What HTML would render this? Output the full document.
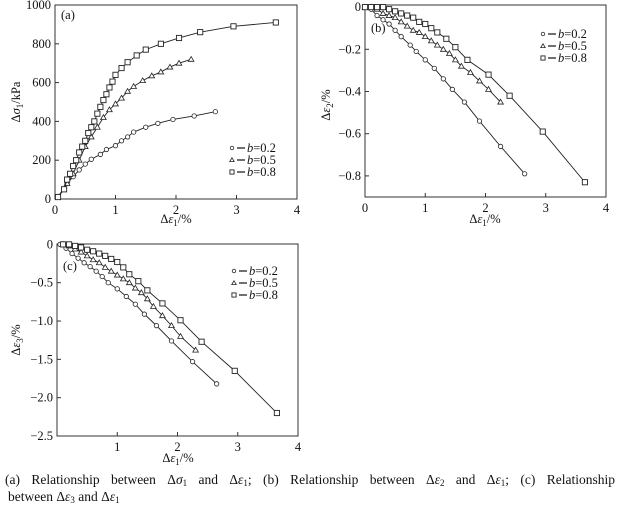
<!DOCTYPE html>
<html><head><meta charset="utf-8"><style>
html,body{margin:0;padding:0;background:#fff;width:621px;height:509px;overflow:hidden;position:relative}
svg text{font-family:"Liberation Serif",serif;fill:#111}
.cap{position:absolute;left:5px;width:610px;font-family:"Liberation Serif",serif;font-size:13.5px;line-height:17px;color:#111;white-space:nowrap}
.cap sub{font-size:9px;line-height:0;vertical-align:-2px}
#c1{top:471px;text-align:justify;text-align-last:justify}
#c2{top:488px;left:8px}
</style></head><body>
<svg id="s" width="621" height="509" xmlns="http://www.w3.org/2000/svg" style="position:absolute;left:0;top:0"></svg>
<div class="cap" id="c1">(a) Relationship between Δ<i>σ</i><sub>1</sub> and Δ<i>ε</i><sub>1</sub>; (b) Relationship&nbsp;between Δ<i>ε</i><sub>2</sub> and Δ<i>ε</i><sub>1</sub>; (c) Relationship</div>
<div class="cap" id="c2">between Δ<i>ε</i><sub>3</sub> and Δ<i>ε</i><sub>1</sub></div>
<script>
const S=document.getElementById('s');let h='';
function panel(o){
 const {L,R,T,B,x0,x1,y0,y1}=o;
 const X=v=>L+(v-x0)/(x1-x0)*(R-L), Y=v=>B-(v-y0)/(y1-y0)*(B-T);
 h+=`<rect x="${L}" y="${T}" width="${R-L}" height="${B-T}" fill="none" stroke="#333" stroke-width="1"/>`;
 o.xt.forEach(v=>{const x=X(v);h+=`<line x1="${x}" y1="${B}" x2="${x}" y2="${B-4}" stroke="#333"/><text x="${x}" y="${B+15}" font-size="12.5" text-anchor="middle">${v}</text>`});
 o.yt.forEach(v=>{const y=Y(v[0]);h+=`<line x1="${L}" y1="${y}" x2="${L+4}" y2="${y}" stroke="#333"/><text x="${L-4}" y="${y+4}" font-size="12.5" text-anchor="end">${v[1]}</text>`});
 const mk=['c','t','s'];
 o.d.forEach((ser,i)=>{
  h+=`<polyline fill="none" stroke="#222" stroke-width="0.9" points="${ser.map(p=>X(p[0])+','+Y(p[1])).join(' ')}"/>`;
  ser.forEach(p=>{h+=m(mk[i],X(p[0]),Y(p[1]))});
 });
 h+=`<text x="${L+6}" y="${o.labY}" font-size="12.5">${o.lab}</text>`;
 const lx=o.lx,ly=o.ly;
 ['0.2','0.5','0.8'].forEach((b,i)=>{const y=ly+i*12;h+=m(mk[i],lx,y-4,0.8)+`<line x1="${lx+5}" y1="${y-4}" x2="${lx+13}" y2="${y-4}" stroke="#222" stroke-width="1.3"/><text x="${lx+15}" y="${y}" font-size="12.5"><tspan font-style="italic">b</tspan>=${b}</text>`});
}
function m(t,x,y,s){s=s||1;
 if(t==='c')return `<circle cx="${x}" cy="${y}" r="${2.2*s}" fill="#fff" stroke="#222" stroke-width="0.8"/>`;
 if(t==='t')return `<polygon points="${x},${y-2.8*s} ${x-2.8*s},${y+2*s} ${x+2.8*s},${y+2*s}" fill="#fff" stroke="#222" stroke-width="0.8"/>`;
 return `<rect x="${x-2.6*s}" y="${y-2.6*s}" width="${5.2*s}" height="${5.2*s}" fill="#fff" stroke="#222" stroke-width="0.9"/>`;
}
const a8=[[0.05,10],[0.15,50],[0.2,100],[0.25,130],[0.3,170],[0.35,200],[0.4,240],[0.45,270],[0.5,300],[0.55,340],[0.6,370],[0.65,400],[0.7,440],[0.75,475],[0.8,510],[0.85,540],[0.9,575],[0.95,605],[1.0,640],[1.1,675],[1.2,705],[1.35,740],[1.5,770],[1.75,800],[2.05,830],[2.4,860],[2.95,890],[3.65,910]];
const a5=[[0.05,10],[0.2,80],[0.3,130],[0.4,200],[0.5,270],[0.6,320],[0.7,370],[0.8,420],[0.9,460],[1.0,490],[1.1,520],[1.2,555],[1.3,580],[1.45,610],[1.6,635],[1.75,655],[1.9,680],[2.05,700],[2.25,720]];
const a2=[[0.05,10],[0.2,80],[0.3,115],[0.4,150],[0.5,180],[0.6,205],[0.75,230],[0.85,255],[1.0,275],[1.1,300],[1.2,320],[1.3,345],[1.5,370],[1.7,390],[1.95,410],[2.3,428],[2.65,450]];
panel({L:55,R:297,T:5,B:199,x0:0,x1:4,y0:0,y1:1000,xt:[0,1,2,3,4],yt:[[0,'0'],[200,'200'],[400,'400'],[600,'600'],[800,'800'],[1000,'1000']],d:[a2,a5,a8],lab:'(a)',labY:19,lx:232,ly:152});
const b2=[[0,0],[0.1,-0.01],[0.2,-0.04],[0.3,-0.06],[0.4,-0.08],[0.5,-0.11],[0.6,-0.14],[0.75,-0.18],[0.85,-0.21],[1.0,-0.25],[1.15,-0.29],[1.3,-0.34],[1.45,-0.39],[1.65,-0.45],[1.9,-0.54],[2.25,-0.66],[2.65,-0.79]];
const b5=[[0,0],[0.1,0],[0.2,-0.01],[0.3,-0.03],[0.4,-0.04],[0.5,-0.05],[0.6,-0.07],[0.7,-0.09],[0.8,-0.11],[0.9,-0.12],[1.0,-0.14],[1.1,-0.16],[1.2,-0.18],[1.3,-0.2],[1.4,-0.22],[1.5,-0.25],[1.6,-0.28],[1.75,-0.31],[1.9,-0.35],[2.05,-0.39],[2.25,-0.45]];
const b8=[[0,0],[0.1,0],[0.2,0],[0.3,0],[0.4,-0.01],[0.5,-0.02],[0.6,-0.03],[0.7,-0.04],[0.8,-0.05],[0.9,-0.07],[1.0,-0.08],[1.1,-0.1],[1.2,-0.12],[1.35,-0.15],[1.5,-0.19],[1.7,-0.25],[2.05,-0.32],[2.4,-0.42],[2.95,-0.59],[3.65,-0.83]];
panel({L:365,R:606,T:5,B:197,x0:0,x1:4,y0:-0.9,y1:0.01,xt:[0,1,2,3,4],yt:[[0,'0'],[-0.2,'−0.2'],[-0.4,'−0.4'],[-0.6,'−0.6'],[-0.8,'−0.8']],d:[b2,b5,b8],lab:'(b)',labY:32,lx:543,ly:38});
const c2=[[0.05,0],[0.15,-0.05],[0.25,-0.12],[0.35,-0.18],[0.45,-0.24],[0.55,-0.29],[0.65,-0.35],[0.75,-0.42],[0.85,-0.5],[1.0,-0.58],[1.15,-0.68],[1.3,-0.78],[1.45,-0.91],[1.65,-1.06],[1.9,-1.26],[2.25,-1.53],[2.65,-1.82]];
const c5=[[0.1,0],[0.2,-0.02],[0.3,-0.06],[0.4,-0.1],[0.5,-0.15],[0.6,-0.2],[0.7,-0.24],[0.8,-0.3],[0.9,-0.35],[1.0,-0.4],[1.1,-0.45],[1.2,-0.5],[1.3,-0.57],[1.4,-0.63],[1.5,-0.71],[1.6,-0.81],[1.75,-0.93],[1.9,-1.06],[2.05,-1.2],[2.3,-1.38]];
const c8=[[0.1,0],[0.2,0],[0.3,-0.02],[0.4,-0.04],[0.5,-0.07],[0.6,-0.09],[0.7,-0.12],[0.8,-0.15],[0.9,-0.19],[1.0,-0.23],[1.1,-0.3],[1.2,-0.39],[1.35,-0.48],[1.5,-0.6],[1.75,-0.77],[2.05,-0.99],[2.4,-1.27],[2.95,-1.65],[3.65,-2.2]];
panel({L:57,R:298,T:244,B:436,x0:0,x1:4,y0:-2.5,y1:0.005,xt:[1,2,3,4],yt:[[0,'0'],[-0.5,'−0.5'],[-1,'−1.0'],[-1.5,'−1.5'],[-2,'−2.0'],[-2.5,'−2.5']],d:[c2,c5,c8],lab:'(c)',labY:270,lx:234,ly:275});
h+=`<text x="176" y="223" font-size="12.5" text-anchor="middle">Δ<tspan font-style="italic">ε</tspan><tspan font-size="9" dy="3">1</tspan><tspan dy="-3">/%</tspan></text>`;
h+=`<text x="485" y="223" font-size="12.5" text-anchor="middle">Δ<tspan font-style="italic">ε</tspan><tspan font-size="9" dy="3">1</tspan><tspan dy="-3">/%</tspan></text>`;
h+=`<text x="178" y="462" font-size="12.5" text-anchor="middle">Δ<tspan font-style="italic">ε</tspan><tspan font-size="9" dy="3">1</tspan><tspan dy="-3">/%</tspan></text>`;
h+=`<text transform="translate(20,102) rotate(-90)" font-size="12.5" text-anchor="middle">Δ<tspan font-style="italic">σ</tspan><tspan font-size="9" dy="3">1</tspan><tspan dy="-3">/kPa</tspan></text>`;
h+=`<text transform="translate(330,105) rotate(-90)" font-size="12.5" text-anchor="middle">Δ<tspan font-style="italic">ε</tspan><tspan font-size="9" dy="3">2</tspan><tspan dy="-3">/%</tspan></text>`;
h+=`<text transform="translate(20,340) rotate(-90)" font-size="12.5" text-anchor="middle">Δ<tspan font-style="italic">ε</tspan><tspan font-size="9" dy="3">3</tspan><tspan dy="-3">/%</tspan></text>`;
S.innerHTML=h;
</script>
</body></html>
